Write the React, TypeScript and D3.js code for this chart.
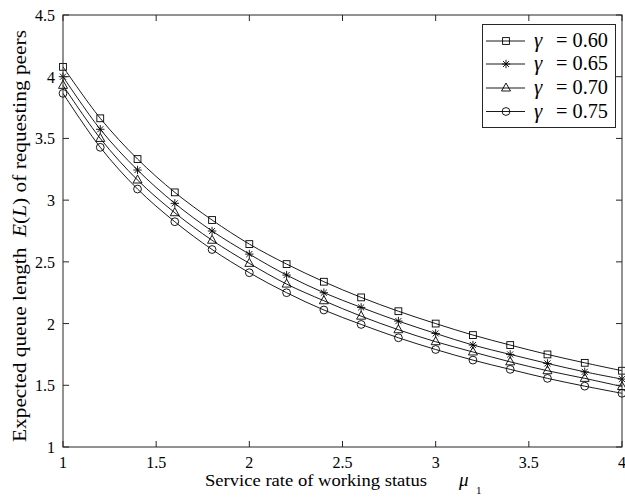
import React from "react";
import * as d3 from "d3";

const xValues = [1, 1.2, 1.4, 1.6, 1.8, 2, 2.2, 2.4, 2.6, 2.8, 3, 3.2, 3.4, 3.6, 3.8, 4];
const gamma060 = [4.08, 3.663, 3.333, 3.063, 2.839, 2.644, 2.482, 2.339, 2.212, 2.1, 2.0, 1.907, 1.826, 1.75, 1.682, 1.618];
const gamma065 = [4.0, 3.574, 3.244, 2.974, 2.75, 2.563, 2.393, 2.25, 2.131, 2.02, 1.92, 1.826, 1.75, 1.677, 1.609, 1.55];
const gamma070 = [3.93, 3.5, 3.163, 2.898, 2.675, 2.488, 2.32, 2.185, 2.06, 1.95, 1.853, 1.77, 1.69, 1.618, 1.556, 1.49];
const gamma075 = [3.865, 3.428, 3.09, 2.825, 2.6, 2.412, 2.25, 2.11, 1.993, 1.885, 1.79, 1.704, 1.629, 1.556, 1.493, 1.435];
const seriesLabels = ["= 0.60", "= 0.65", "= 0.70", "= 0.75"];
const markerTypes = ["square", "star", "triangle", "circle"];
const xTicks = [1, 1.5, 2, 2.5, 3, 3.5, 4];
const yTicks = [1, 1.5, 2, 2.5, 3, 3.5, 4, 4.5];

const W = 625, H = 500;
const left = 63, right = 622, top = 15, bottom = 447;
const axisColor = "#262626";
const font = "Liberation Serif, Times New Roman, serif";

function Marker({ type, x, y }: { type: string; x: number; y: number }) {
  const s = 3.4;
  if (type === "square") return <rect x={x - s} y={y - s} width={2 * s} height={2 * s} fill="none" stroke="#000" strokeWidth={0.9} />;
  if (type === "circle") return <circle cx={x} cy={y} r={3.9} fill="none" stroke="#000" strokeWidth={0.9} />;
  if (type === "triangle") {
    const r = 5;
    return <path d={`M${x},${y - r}L${x + r * 0.9},${y + r * 0.6}L${x - r * 0.9},${y + r * 0.6}Z`} fill="none" stroke="#000" strokeWidth={0.9} />;
  }
  const r = 4.2, d = r * 0.72;
  return (
    <path d={`M${x - r},${y}L${x + r},${y}M${x},${y - r}L${x},${y + r}M${x - d},${y - d}L${x + d},${y + d}M${x - d},${y + d}L${x + d},${y - d}`} stroke="#000" strokeWidth={0.9} fill="none" />
  );
}

export default function App() {
  const xs = d3.scaleLinear().domain([1, 4]).range([left, right]);
  const ys = d3.scaleLinear().domain([1, 4.5]).range([bottom, top]);
  const series = [gamma060, gamma065, gamma070, gamma075];
  const line = d3.line<number>().x((_, i) => xs(xValues[i])).y((d) => ys(d)).curve(d3.curveCatmullRom.alpha(0.5));
  const tickLen = 6;
  const legendY = [41, 64, 88, 111.5];

  return (
    <svg width={W} height={H} style={{ position: "absolute", left: 0, top: 0, background: "#fff", fontFamily: font }}>
      <rect width={W} height={H} fill="#fff" />
      {series.map((s, k) => (
        <g key={k}>
          <path d={line(s) || ""} fill="none" stroke="#000" strokeWidth={0.9} />
          {s.map((v, i) => <Marker key={i} type={markerTypes[k]} x={xs(xValues[i])} y={ys(v)} />)}
        </g>
      ))}
      <rect x={left} y={top} width={right - left} height={bottom - top} fill="none" stroke={axisColor} strokeWidth={1} />
      {xTicks.map((t) => (
        <g key={"x" + t}>
          <line x1={xs(t)} x2={xs(t)} y1={bottom} y2={bottom - tickLen} stroke={axisColor} />
          <line x1={xs(t)} x2={xs(t)} y1={top} y2={top + tickLen} stroke={axisColor} />
          <text x={xs(t)} y={468} textAnchor="middle" fontSize={16} fill="#000">{t}</text>
        </g>
      ))}
      {yTicks.map((t) => (
        <g key={"y" + t}>
          <line x1={left} x2={left + tickLen} y1={ys(t)} y2={ys(t)} stroke={axisColor} />
          <line x1={right} x2={right - tickLen} y1={ys(t)} y2={ys(t)} stroke={axisColor} />
          <text x={left - 8} y={ys(t) + 6} textAnchor="end" fontSize={16} fill="#000">{t}</text>
        </g>
      ))}
      <text x={205} y={486} fontSize={17} fill="#000" textLength={222} lengthAdjust="spacingAndGlyphs">
        Service rate of working status
      </text>
      <text x={459} y={486} fontSize={19} fill="#000" fontStyle="italic">μ</text>
      <text x={476} y={494} fontSize={11} fill="#000">1</text>
      <text transform={`translate(25.5, 442) rotate(-90)`} fontSize={18} fill="#000" textLength={412} lengthAdjust="spacingAndGlyphs">
        Expected queue length{"\u00a0\u00a0"}<tspan fontStyle="italic">E</tspan>(<tspan fontStyle="italic">L</tspan>) of requesting peers
      </text>
      <rect x={482.5} y={24.5} width={133} height={103} fill="#fff" stroke={axisColor} strokeWidth={1} />
      {seriesLabels.map((lab, k) => (
        <g key={lab}>
          <line x1={486} x2={525} y1={legendY[k]} y2={legendY[k]} stroke="#000" strokeWidth={0.9} />
          <Marker type={markerTypes[k]} x={506} y={legendY[k]} />
          <text x={534} y={legendY[k] + 6} fontSize={21} fill="#000" fontStyle="italic">γ</text>
          <text x={556} y={legendY[k] + 6} fontSize={21} fill="#000" textLength={52} lengthAdjust="spacingAndGlyphs">{lab}</text>
        </g>
      ))}
    </svg>
  );
}
